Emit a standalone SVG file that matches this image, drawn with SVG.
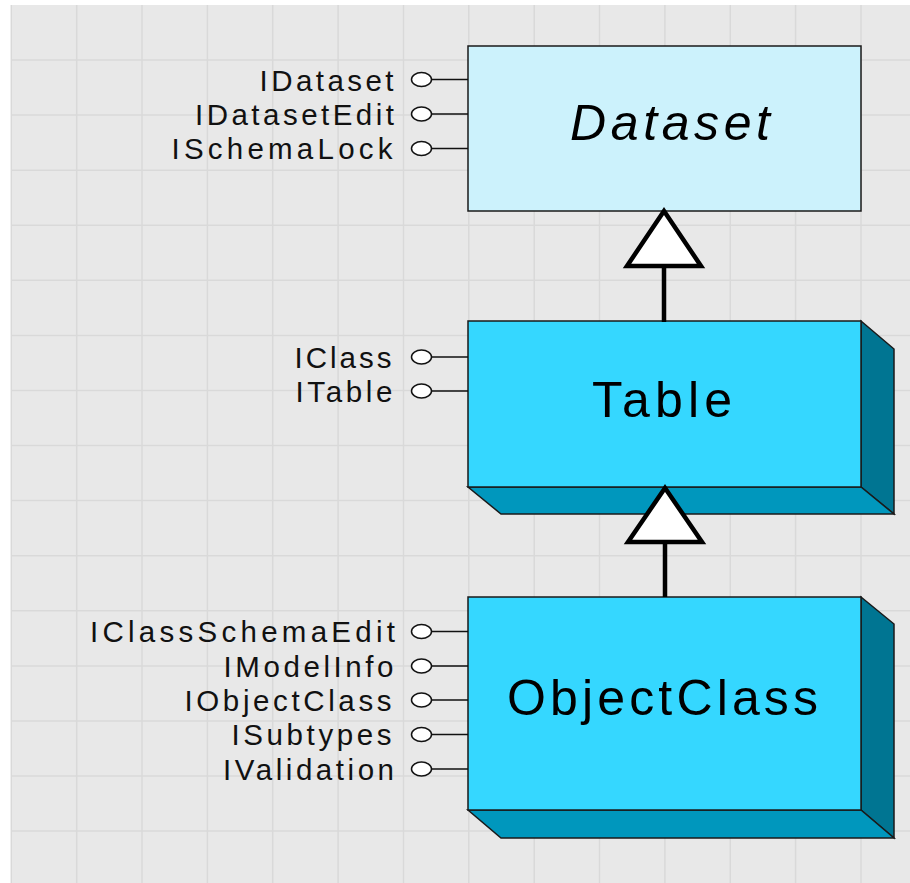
<svg xmlns="http://www.w3.org/2000/svg" width="910" height="883" viewBox="0 0 910 883">
  <style>
    .grid { stroke: #d9d9d9; stroke-width: 1.5; fill: none; }
    .box { stroke: #1a1a1a; stroke-width: 1.5; }
    .front { fill: #35d7ff; }
    .abstract { fill: #ccf2fc; }
    .bottom { fill: #0097bd; }
    .side { fill: #007592; }
    .name { font-family: "Liberation Sans", Arial, sans-serif; font-size: 50px; fill: #000; }
    .iface { font-family: "Liberation Sans", Arial, sans-serif; font-size: 29.5px; fill: #111; }
    .stem { stroke: #111; stroke-width: 1.5; fill: none; }
    .pop { fill: #fff; stroke: #111; stroke-width: 1.5; }
    .gen { stroke: #000; stroke-width: 4.5; fill: none; }
    .head { fill: #fff; stroke: #000; stroke-width: 4.5; stroke-linejoin: miter; }
  </style>

  <!-- background grid -->
  <rect x="11" y="5" width="899" height="878" fill="#e8e8e8"/>
  <g class="grid">
    <path d="M11.3 5V883M76.7 5V883M142 5V883M207.4 5V883M272.7 5V883M338.1 5V883M403.5 5V883M468.8 5V883M534.2 5V883M599.5 5V883M664.9 5V883M730.3 5V883M795.6 5V883M861 5V883"/>
    <path d="M11 60H910M11 115.1H910M11 170.2H910M11 225.3H910M11 280.3H910M11 335.4H910M11 390.5H910M11 445.6H910M11 500.6H910M11 555.7H910M11 610.8H910M11 665.9H910M11 720.9H910M11 776H910M11 831H910"/>
  </g>

  <!-- Dataset (abstract) -->
  <g id="dataset">
    <rect class="box abstract" x="468" y="46" width="393" height="165"/>
    <text class="name" x="570" y="140" font-style="italic" textLength="200" lengthAdjust="spacing">Dataset</text>
    <g class="stem">
      <path d="M431 79.5H468M431 114H468M431 148.5H468"/>
    </g>
    <ellipse class="pop" cx="421.5" cy="79.5" rx="10" ry="7"/>
    <ellipse class="pop" cx="421.5" cy="114" rx="10" ry="7"/>
    <ellipse class="pop" cx="421.5" cy="148.5" rx="10" ry="7"/>
    <text class="iface" x="259.5" y="90.5" textLength="134" lengthAdjust="spacing">IDataset</text>
    <text class="iface" x="195" y="125" textLength="199" lengthAdjust="spacing">IDatasetEdit</text>
    <text class="iface" x="171.5" y="159" textLength="221" lengthAdjust="spacing">ISchemaLock</text>
  </g>

  <!-- Table -->
  <g id="table">
    <polygon class="box side" points="861,321 894,349 894,514 861,487"/>
    <polygon class="box bottom" points="468,487 861,487 894,514 501,514"/>
    <rect class="box front" x="468" y="321" width="393" height="166"/>
    <text class="name" x="592" y="416.5" textLength="140" lengthAdjust="spacing">Table</text>
    <g class="stem">
      <path d="M431 357H468M431 391H468"/>
    </g>
    <ellipse class="pop" cx="421.5" cy="357" rx="10" ry="7"/>
    <ellipse class="pop" cx="421.5" cy="391" rx="10" ry="7"/>
    <text class="iface" x="294.5" y="367.5" textLength="97" lengthAdjust="spacing">IClass</text>
    <text class="iface" x="295.5" y="401.5" textLength="97" lengthAdjust="spacing">ITable</text>
  </g>

  <!-- ObjectClass -->
  <g id="objectclass">
    <polygon class="box side" points="861,597 894,624 894,838 861,810"/>
    <polygon class="box bottom" points="468,810 861,810 894,838 501,838"/>
    <rect class="box front" x="468" y="597" width="393" height="213"/>
    <text class="name" x="507" y="715" textLength="311" lengthAdjust="spacing">ObjectClass</text>
    <g class="stem">
      <path d="M431 631.5H468M431 666H468M431 700H468M431 734.5H468M431 769H468"/>
    </g>
    <ellipse class="pop" cx="421.5" cy="631.5" rx="10" ry="7"/>
    <ellipse class="pop" cx="421.5" cy="666" rx="10" ry="7"/>
    <ellipse class="pop" cx="421.5" cy="700" rx="10" ry="7"/>
    <ellipse class="pop" cx="421.5" cy="734.5" rx="10" ry="7"/>
    <ellipse class="pop" cx="421.5" cy="769" rx="10" ry="7"/>
    <text class="iface" x="90" y="642" textLength="305" lengthAdjust="spacing">IClassSchemaEdit</text>
    <text class="iface" x="223.5" y="676.5" textLength="170" lengthAdjust="spacing">IModelInfo</text>
    <text class="iface" x="184.5" y="710.5" textLength="207" lengthAdjust="spacing">IObjectClass</text>
    <text class="iface" x="231.5" y="745" textLength="160" lengthAdjust="spacing">ISubtypes</text>
    <text class="iface" x="223" y="779.5" textLength="171" lengthAdjust="spacing">IValidation</text>
  </g>

  <!-- generalization connectors, drawn above the boxes -->
  <g id="connectors">
    <line class="gen" x1="664" y1="266" x2="664" y2="322"/>
    <polygon class="head" points="664,211 627,266 701,266"/>
    <line class="gen" x1="665" y1="542" x2="665" y2="597"/>
    <polygon class="head" points="665,488 628,542 702,542"/>
  </g>
</svg>
